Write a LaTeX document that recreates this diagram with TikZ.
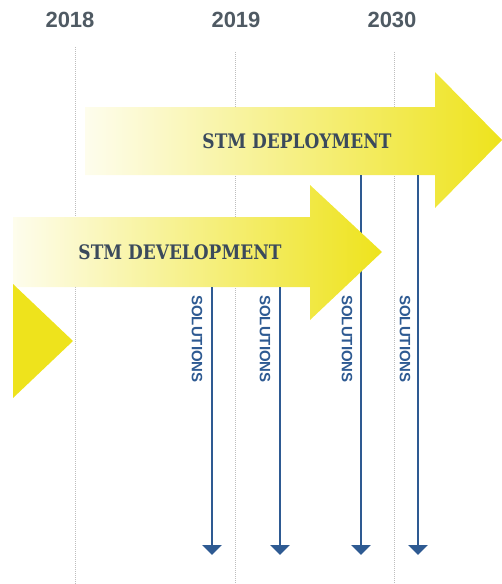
\documentclass[tikz,border=0pt]{standalone}
\usepackage{fontspec}
\setmainfont{Liberation Sans}
\newfontfamily\slab{DejaVu Serif}[FakeStretch=0.85]
\usetikzlibrary{arrows.meta}
\definecolor{stmyellow}{HTML}{EEE31C}
\definecolor{stmtext}{HTML}{3B4A5C}
\definecolor{solblue}{HTML}{2E5A92}
\definecolor{yeargray}{HTML}{4F5A63}
\definecolor{gridgray}{HTML}{BDBDBD}
\tikzset{
  yearlabel/.style={font=\bfseries\fontsize{22}{22}\selectfont, text=yeargray, inner sep=0pt},
  gridline/.style={draw=gridgray, line width=0.9pt, dash pattern=on 1pt off 1pt},
  stmshape/.style={left color=stmyellow!8, right color=stmyellow, draw=none},
  stmlabel/.style={font=\slab\bfseries\fontsize{20}{20}\selectfont, text=stmtext, inner sep=0pt},
  solarrow/.style={draw=solblue, line width=2.6pt, -{Triangle[width=19pt,length=10pt]}},
  sollabel/.style={font=\bfseries\fontsize{15}{15}\selectfont, text=solblue, rotate=-90, inner sep=0pt}
}
\begin{document}
\begin{tikzpicture}[x=1pt,y=-1pt]
\useasboundingbox (0,0) rectangle (502,584);
% year labels
\node[yearlabel] (y2018) at (70,20) {2018};
\node[yearlabel] (y2019) at (236,20) {2019};
\node[yearlabel] (y2030) at (392,20) {2030};
% dotted grid lines
\coordinate (g1t) at (75,47);  \coordinate (g1b) at (75,584);
\coordinate (g2t) at (235,52); \coordinate (g2b) at (235,584);
\coordinate (g3t) at (394,52); \coordinate (g3b) at (394,584);
\draw[gridline] (g1t) -- (g1b);
\draw[gridline] (g2t) -- (g2b);
\draw[gridline] (g3t) -- (g3b);
% deployment arrow
\shade[stmshape] (85,107) -- (435,107) -- (435,72) -- (502,140) -- (435,208) -- (435,175) -- (85,175) -- cycle;
\node[stmlabel] (dep) at (297,141) {STM DEPLOYMENT};
% solutions 3 and 4
\coordinate (s3t) at (361,175); \coordinate (s3b) at (361,555);
\coordinate (s4t) at (418,175); \coordinate (s4b) at (418,555);
\draw[solarrow] (s3t) -- (s3b);
\draw[solarrow] (s4t) -- (s4b);
% development arrow
\shade[stmshape] (13,217) -- (310,217) -- (310,185) -- (382,252) -- (310,320) -- (310,287) -- (13,287) -- cycle;
\node[stmlabel] (dev) at (180,252) {STM DEVELOPMENT};
% solutions 1 and 2
\coordinate (s1t) at (212,287); \coordinate (s1b) at (212,555);
\coordinate (s2t) at (280,287); \coordinate (s2b) at (280,555);
\draw[solarrow] (s1t) -- (s1b);
\draw[solarrow] (s2t) -- (s2b);
% partial third arrow head
\fill[stmyellow] (13,284) -- (73,341) -- (13,398) -- cycle;
% solutions labels
\node[sollabel] (l1) at (197,339) {SOLUTIONS};
\node[sollabel] (l2) at (265,339) {SOLUTIONS};
\node[sollabel] (l3) at (347,339) {SOLUTIONS};
\node[sollabel] (l4) at (405,339) {SOLUTIONS};
\end{tikzpicture}
\end{document}
